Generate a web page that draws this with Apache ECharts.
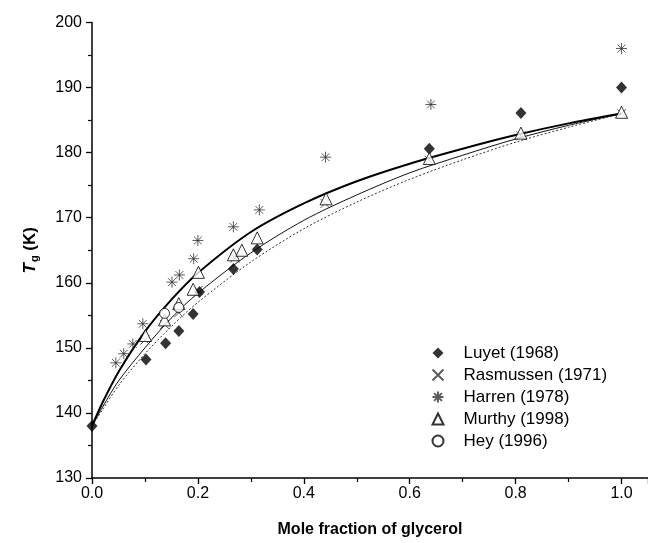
<!DOCTYPE html>
<html><head><meta charset="utf-8">
<script src="https://cdn.jsdelivr.net/npm/echarts@6/dist/echarts.min.js"></script>
<style>html,body{margin:0;padding:0;background:#fff}#c{width:648px;height:543px}</style>
</head><body><div id="c"></div>
<script>
// ---- data ----
const luyet = [[0,138],[0.102,148.2],[0.139,150.7],[0.164,152.6],[0.191,155.2],[0.203,158.6],[0.267,162.1],[0.312,165.1],[0.637,180.6],[0.81,186.1],[1.0,190.0]];
const rasmussen = [[0.10,151.2],[0.137,153.6],[0.164,155.4],[0.20,158.8],[0.27,163.8],[0.44,172.2],[0.637,178.8],[0.81,182.6],[1.0,186.0]];
const harren = [[0.045,147.7],[0.060,149.1],[0.077,150.6],[0.096,153.7],[0.151,160.1],[0.165,161.2],[0.192,163.7],[0.200,166.5],[0.267,168.6],[0.316,171.2],[0.441,179.3],[0.64,187.4],[1.0,196.0]];
const murthy = [[0.101,151.9],[0.137,154.3],[0.164,156.8],[0.191,159.0],[0.201,161.6],[0.267,164.3],[0.283,165.0],[0.312,166.9],[0.442,172.9],[0.637,179.1],[0.81,183.0],[1.0,186.2]];
const hey = [[0.137,155.3],[0.164,156.2]];
const curveThick = [[0,138],[0.02,141.6],[0.05,146.3],[0.1,152.5],[0.15,157.4],[0.2,161.5],[0.3,167.8],[0.4,172.2],[0.5,175.6],[0.6,178.3],[0.7,180.6],[0.8,182.7],[0.9,184.5],[1.0,186.0]];
const curveThin = [[0,138],[0.02,140.9],[0.05,144.9],[0.1,150.0],[0.15,154.6],[0.2,158.4],[0.3,164.6],[0.4,169.6],[0.5,173.5],[0.6,176.9],[0.7,179.6],[0.8,182.1],[0.9,184.2],[1.0,186.0]];
const curveDot = [[0,138],[0.02,140.5],[0.05,144.2],[0.1,149.1],[0.15,153.3],[0.2,157.0],[0.3,163.2],[0.4,168.3],[0.5,172.4],[0.6,175.9],[0.7,178.9],[0.8,181.6],[0.9,183.9],[1.0,186.0]];
const names = ['Luyet (1968)','Rasmussen (1971)','Harren (1978)','Murthy (1998)','Hey (1996)'];

const FONT = '"Liberation Sans", Arial, sans-serif';
const star = 'path://M0 5L10 5M5 0L5 10M1.46 1.46L8.54 8.54M1.46 8.54L8.54 1.46';
const cross = 'path://M0 0L10 10M0 10L10 0';

const chart = echarts.init(document.getElementById('c'), null, {renderer:'canvas'});
const axisCommon = {
  axisLine:{show:true,onZero:false,lineStyle:{color:'#000',width:1.5}},
  axisTick:{show:true,inside:false,length:6,lineStyle:{color:'#000',width:1.3}},
  minorTick:{show:true,splitNumber:2,length:4,lineStyle:{color:'#000',width:1.2}},
  splitLine:{show:false},
  axisLabel:{color:'#000',fontFamily:FONT,fontSize:16}
};
chart.setOption({
  animation:false,
  backgroundColor:'#fff',
  grid:{left:92,right:0,top:22.5,bottom:64,containLabel:false},
  xAxis:Object.assign({}, axisCommon, {
    type:'value',min:0,max:1.05,interval:0.2,
    name:'Mole fraction of glycerol',nameLocation:'middle',nameGap:44,
    nameTextStyle:{color:'#000',fontFamily:FONT,fontSize:16,fontWeight:'bold'},
    axisLabel:Object.assign({},axisCommon.axisLabel,{margin:8,showMaxLabel:false,formatter:v=>v.toFixed(1)})
  }),
  yAxis:Object.assign({}, axisCommon, {
    type:'value',min:130,max:200,interval:10,
    name:'{i|T}{s|g}{n| (K)}',nameLocation:'middle',nameGap:52,nameRotate:90,
    nameTextStyle:{color:'#000',fontFamily:FONT,fontSize:17,fontWeight:'bold',
      rich:{i:{fontFamily:FONT,fontSize:17,fontWeight:'bold',fontStyle:'italic'},
            s:{fontFamily:FONT,fontSize:11,fontWeight:'bold',verticalAlign:'bottom',padding:[8,0,0,1]},
            n:{fontFamily:FONT,fontSize:17,fontWeight:'bold'}}},
    axisLabel:Object.assign({},axisCommon.axisLabel,{margin:10})
  }),
  legend:{
    data:names,orient:'vertical',left:425,top:339,itemWidth:11,itemHeight:11,itemGap:4,
    textStyle:{color:'#000',fontFamily:FONT,fontSize:17,lineHeight:18,padding:[0,0,0,15]},
    selectedMode:false
  },
  series:[
    {type:'line',data:curveDot,smooth:0.3,symbol:'none',lineStyle:{color:'#333',width:1,type:[2,2]},z:1},
    {type:'line',data:curveThin,smooth:0.3,symbol:'none',lineStyle:{color:'#111',width:1},z:1},
    {type:'line',data:curveThick,smooth:0.3,symbol:'none',lineStyle:{color:'#000',width:2},z:1},
    {name:names[1],type:'scatter',data:rasmussen,symbol:cross,symbolSize:9,itemStyle:{color:'none',borderColor:'#333',borderWidth:1},z:3},
    {name:names[2],type:'scatter',data:harren,symbol:star,symbolSize:11,itemStyle:{color:'none',borderColor:'#333',borderWidth:1},z:3},
    {name:names[0],type:'scatter',data:luyet,symbol:'diamond',symbolSize:[11,12],itemStyle:{color:'#000'},z:4},
    {name:names[3],type:'scatter',data:murthy,symbol:'triangle',symbolSize:12,itemStyle:{color:'#fff',borderColor:'#000',borderWidth:1},z:5},
    {name:names[4],type:'scatter',data:hey,symbol:'circle',symbolSize:10,itemStyle:{color:'#fff',borderColor:'#000',borderWidth:1},z:5}
  ]
});
</script></body></html>
